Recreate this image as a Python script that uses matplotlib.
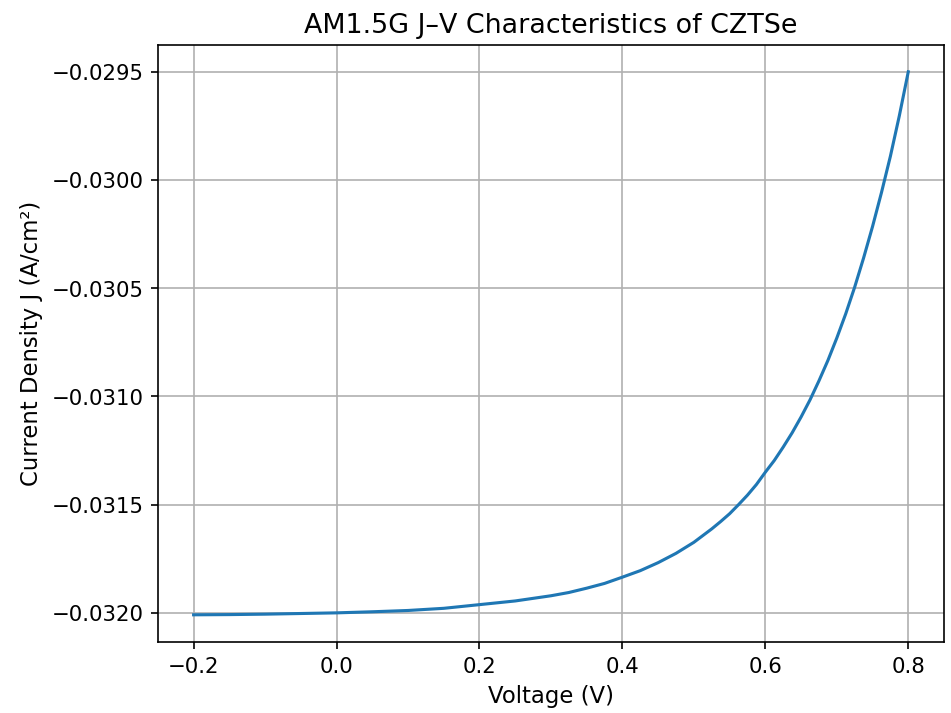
import matplotlib
matplotlib.use('Agg')
from matplotlib import pyplot as plt

# Voltage points (V) and current density (A/cm^2)
voltage = [-0.2, -0.15, -0.1, -0.05, 0.0, 0.05, 0.1, 0.15, 0.2, 0.25, 0.3, 0.325,
           0.35, 0.375, 0.4, 0.425, 0.45, 0.475, 0.5, 0.525, 0.5375, 0.55, 0.5625,
           0.575, 0.5875, 0.6, 0.6125, 0.625, 0.6375, 0.65, 0.6625, 0.675, 0.6875,
           0.7, 0.7125, 0.725, 0.7375, 0.75, 0.7625, 0.775, 0.7875, 0.8]
current_density = [-0.032009, -0.032008, -0.032006, -0.032003, -0.032000, -0.031995,
                   -0.031989, -0.031979, -0.031962, -0.031945, -0.031921, -0.031906,
                   -0.031886, -0.031864, -0.031835, -0.031805, -0.031768, -0.031725,
                   -0.031674, -0.031612, -0.031578, -0.031542, -0.031500, -0.031456,
                   -0.031407, -0.031350, -0.031296, -0.031234, -0.031168, -0.031095,
                   -0.031016, -0.030928, -0.030834, -0.030730, -0.030618, -0.030495,
                   -0.030360, -0.030215, -0.030058, -0.029890, -0.029703, -0.029500]

fig = plt.figure(figsize=(6.4, 4.8), dpi=148.6)
ax = fig.add_subplot(111)
ax.plot(voltage, current_density)
ax.set_xlabel('Voltage (V)', fontsize=11)
ax.set_ylabel('Current Density J (A/cm²)', fontsize=11)
ax.set_title('AM1.5G J–V Characteristics of CZTSe', fontsize=13)
ax.tick_params(labelsize=10.3)
ax.grid(True)
fig.subplots_adjust(left=0.166, right=0.9926, top=0.937, bottom=0.0996)
fig.savefig('out.png')
